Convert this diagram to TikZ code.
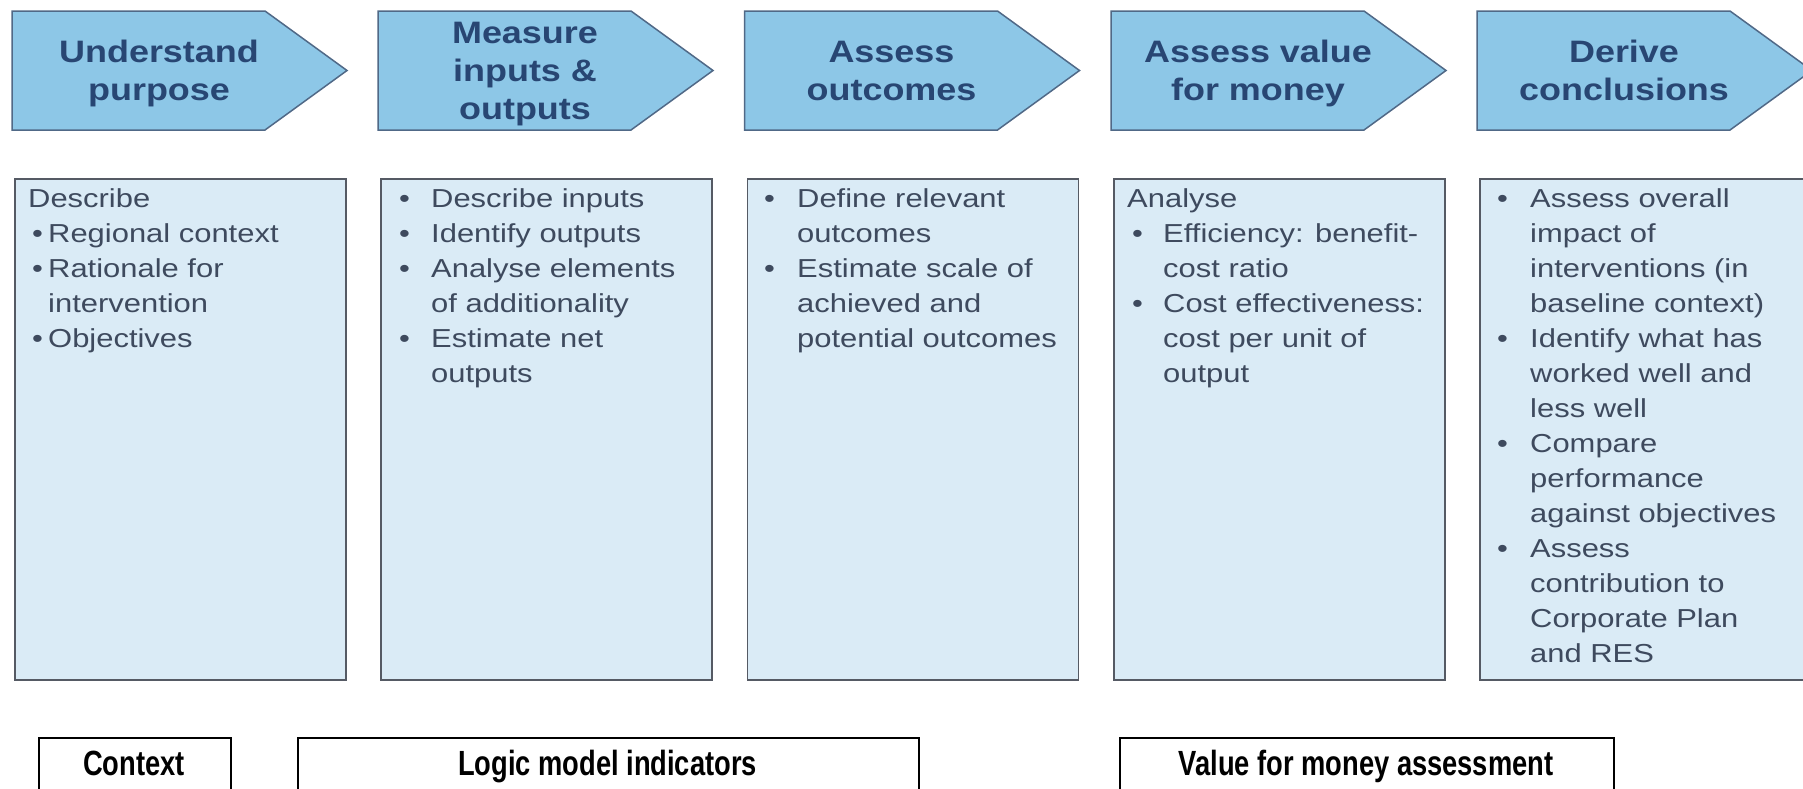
\documentclass[tikz,border=0pt]{standalone}
\usepackage{fontspec}
\setmainfont{Liberation Sans}
\newfontfamily\bodyfont{Liberation Sans}[FakeStretch=1.19]
\newfontfamily\headfont{Liberation Sans Bold}[FakeStretch=1.16]
\newfontfamily\labelfont{Liberation Sans Bold}[FakeStretch=0.78]
\definecolor{arrowfill}{RGB}{141,199,231}
\definecolor{arrowdraw}{RGB}{80,105,135}
\definecolor{arrowtext}{RGB}{40,70,115}
\definecolor{boxfill}{RGB}{218,235,246}
\definecolor{boxdraw}{RGB}{85,90,100}
\definecolor{boxtext}{RGB}{62,74,94}
\newcommand\PBul[2]{\makebox[#1][l]{\textbullet}#2}
\newcommand\PCon[2]{\hspace*{#1}#2}
\newcommand\HeadTxt[1]{\parbox[t]{320pt}{\centering\headfont\fontsize{31}{38}\selectfont #1}}
\newcommand\BodyTxt[1]{\parbox[t]{330pt}{\raggedright\bodyfont\fontsize{26}{35}\selectfont #1}}
\tikzset{
  chev/.style={fill=arrowfill, draw=arrowdraw, line width=1.5pt, line join=miter},
  chevtext/.style={anchor=base, inner sep=0pt, text=arrowtext},
  panel/.style={draw=boxdraw, fill=boxfill, line width=1.5pt, minimum width=331pt, minimum height=501pt, anchor=north west, inner sep=0pt},
  paneltext/.style={anchor=base west, inner sep=0pt, text=boxtext},
  groupbox/.style={draw=black, line width=1.5pt, fill=white, anchor=north west, inner sep=0pt, minimum height=70pt},
  grouptext/.style={anchor=base, inner sep=0pt, text=black, font=\labelfont\fontsize{35}{40}\selectfont},
}
\begin{document}
\begin{tikzpicture}[x=1pt,y=-1pt]
\useasboundingbox (0,0) rectangle (1803,788);
\clip (0,0) rectangle (1803,788);
\fill[white] (0,0) rectangle (1803,788);

% ---- process arrows ----
\draw[chev] (12,11) -- (265,11) -- (347,70.5) -- (265,130) -- (12,130) -- cycle;
\node[chevtext] (h1) at (159,62) {\HeadTxt{Understand\\purpose}};

\draw[chev] (378,11) -- (631,11) -- (713,70.5) -- (631,130) -- (378,130) -- cycle;
\node[chevtext] (h2) at (525,43) {\HeadTxt{Measure\\inputs \&\\outputs}};

\draw[chev] (744.5,11) -- (997.5,11) -- (1079.5,70.5) -- (997.5,130) -- (744.5,130) -- cycle;
\node[chevtext] (h3) at (891.5,62) {\HeadTxt{Assess\\outcomes}};

\draw[chev] (1111,11) -- (1364,11) -- (1446,70.5) -- (1364,130) -- (1111,130) -- cycle;
\node[chevtext] (h4) at (1258,62) {\HeadTxt{Assess value\\for money}};

\draw[chev] (1477,11) -- (1730,11) -- (1812,70.5) -- (1730,130) -- (1477,130) -- cycle;
\node[chevtext] (h5) at (1624,62) {\HeadTxt{Derive\\conclusions}};

% ---- panels ----
\node[panel] (p1) at (14,178) {};
\node[paneltext] (t1) at (28,207) {\BodyTxt{Describe\\
\hspace*{4pt}\PBul{16pt}{Regional context}\\
\hspace*{4pt}\PBul{16pt}{Rationale for}\\
\PCon{20pt}{intervention}\\
\hspace*{4pt}\PBul{16pt}{Objectives}}};

\node[panel] (p2) at (380,178) {};
\node[paneltext] (t2) at (399,207) {\BodyTxt{\PBul{32pt}{Describe inputs}\\
\PBul{32pt}{Identify outputs}\\
\PBul{32pt}{Analyse elements}\\
\PCon{32pt}{of additionality}\\
\PBul{32pt}{Estimate net}\\
\PCon{32pt}{outputs}}};

\node[panel] (p3) at (746.5,178) {};
\node[paneltext] (t3) at (764,207) {\BodyTxt{\PBul{33pt}{Define relevant}\\
\PCon{33pt}{outcomes}\\
\PBul{33pt}{Estimate scale of}\\
\PCon{33pt}{achieved and}\\
\PCon{33pt}{potential outcomes}}};

\node[panel] (p4) at (1113,178) {};
\node[paneltext] (t4) at (1127,207) {\BodyTxt{Analyse\\
\hspace*{5pt}\PBul{31pt}{Efficiency: benefit-}\\
\PCon{36pt}{cost ratio}\\
\hspace*{5pt}\PBul{31pt}{Cost effectiveness:}\\
\PCon{36pt}{cost per unit of}\\
\PCon{36pt}{output}}};

\node[panel] (p5) at (1479,178) {};
\node[paneltext] (t5) at (1497,207) {\BodyTxt{\PBul{33pt}{Assess overall}\\
\PCon{33pt}{impact of}\\
\PCon{33pt}{interventions (in}\\
\PCon{33pt}{baseline context)}\\
\PBul{33pt}{Identify what has}\\
\PCon{33pt}{worked well and}\\
\PCon{33pt}{less well}\\
\PBul{33pt}{Compare}\\
\PCon{33pt}{performance}\\
\PCon{33pt}{against objectives}\\
\PBul{33pt}{Assess}\\
\PCon{33pt}{contribution to}\\
\PCon{33pt}{Corporate Plan}\\
\PCon{33pt}{and RES}}};

% ---- group labels ----
\node[groupbox, minimum width=192pt] (g1) at (38,737) {};
\node[grouptext] (gt1) at (134,775) {Context};
\node[groupbox, minimum width=621pt] (g2) at (297,737) {};
\node[grouptext] (gt2) at (607.5,775) {Logic model indicators};
\node[groupbox, minimum width=494pt] (g3) at (1119,737) {};
\node[grouptext] (gt3) at (1366,775) {Value for money assessment};
\end{tikzpicture}
\end{document}
